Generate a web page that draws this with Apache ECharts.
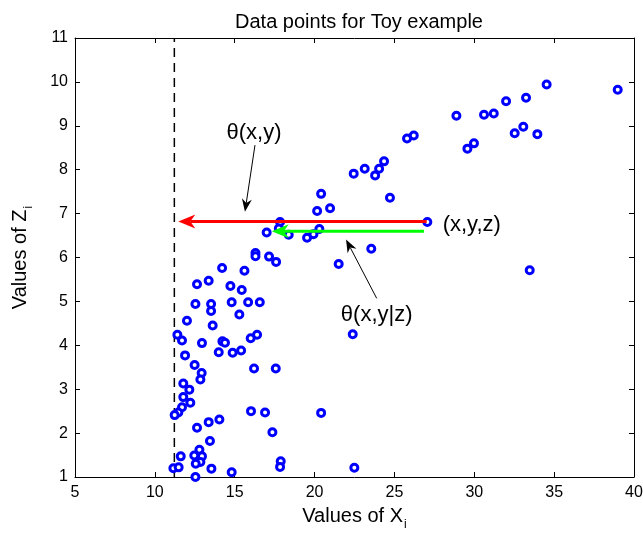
<!DOCTYPE html>
<html>
<head>
<meta charset="utf-8">
<script src="https://cdn.jsdelivr.net/npm/echarts@6/dist/echarts.min.js"></script>
<style>html,body{margin:0;padding:0;background:#fff;}#c{width:643px;height:533px;}</style>
</head>
<body>
<div id="c"></div>
<script>
// ---- data ----
const xValues = [16.3,16.3,17.15,17.59,21.51,14.21,15.61,13.37,12.64,14.73,15.44,12.54,13.52,14.81,15.84,16.57,13.52,15.29,12.01,13.62,
  11.41,11.70,16.40,16.00,12.95,14.23,14.39,14.00,14.87,15.40,11.89,12.49,12.93,12.85,16.21,17.57,11.78,12.16,11.78,12.22,
  11.70,11.47,11.24,16.02,16.90,20.41,13.37,14.04,12.64,17.36,13.45,12.79,11.62,12.47,12.95,12.85,12.56,17.88,17.84,11.16,
  11.49,13.54,14.81,12.54,17.84,17.76,17.00,18.38,19.53,19.93,20.30,20.16,20.41,20.97,22.45,23.14,23.79,24.04,24.35,24.72,
  25.79,26.21,28.88,29.57,29.98,30.61,31.22,31.99,32.53,33.07,33.24,33.95,34.53,38.98,27.06,23.55,33.47,22.39,22.49];
const zValues = [6.10,6.03,6.02,5.90,5.85,5.76,5.70,5.47,5.39,5.35,5.26,4.94,4.94,4.98,4.98,4.98,4.78,4.70,4.56,4.45,
  4.24,4.11,4.24,4.16,4.05,4.09,4.06,3.84,3.83,3.88,3.77,3.55,3.37,3.22,3.47,3.47,3.13,2.99,2.82,2.69,
  2.59,2.47,2.41,2.50,2.47,2.46,2.25,2.31,2.12,2.02,1.82,1.62,1.47,1.49,1.47,1.34,1.30,1.36,1.23,1.20,
  1.22,1.19,1.11,1.00,6.81,6.66,6.57,6.52,6.45,6.53,6.65,7.06,7.45,7.12,7.91,8.02,7.87,8.02,8.19,7.36,
  8.71,8.78,9.23,8.48,8.60,9.25,9.28,9.56,8.83,8.98,9.64,8.81,9.94,9.82,6.81,6.20,5.71,4.25,1.21];
const thresholdX = 11.22;                 // dashed vertical line
const thresholdY = [1, 11];
const redArrow = [27.02, 6.82, 11.47, 6.82];     // theta(x,y)
const greenArrow = [26.85, 6.60, 17.32, 6.60];   // theta(x,y|z)
const noteArrows = [[16.27, 8.56, 15.64, 7.04], [23.89, 5.07, 21.97, 6.41]];
const noteTexts = ['θ(x,y)', 'θ(x,y|z)', '(x,y,z)'];
const notePos = [[16.21, 8.83], [23.89, 4.69], [28.02, 6.74]];
const noteAlign = ['center', 'center', 'left'];
const titleText = 'Data points for Toy example';
const xName = 'Values of X';
const yName = 'Values of Z';

// ---- chart ----
const FONT = '"Liberation Sans", Arial, Helvetica, sans-serif';
const chart = echarts.init(document.getElementById('c'), null, {renderer: 'canvas'});

function arrowRender(style) {
  return function (params, api) {
    const p1 = api.coord([api.value(0), api.value(1)]);
    const p2 = api.coord([api.value(2), api.value(3)]);
    const dx = p2[0] - p1[0], dy = p2[1] - p1[1];
    const L = Math.sqrt(dx * dx + dy * dy);
    const ux = dx / L, uy = dy / L, nx = -uy, ny = ux;
    const hl = style.headLen, hw = style.headW, notch = style.notch;
    const base = [p2[0] - ux * (hl - notch), p2[1] - uy * (hl - notch)];
    const back = [p2[0] - ux * hl, p2[1] - uy * hl];
    return {
      type: 'group',
      children: [
        {type: 'line', shape: {x1: p1[0], y1: p1[1], x2: base[0], y2: base[1]},
         style: {stroke: style.color, lineWidth: style.lw}},
        {type: 'polygon', shape: {points: [p2,
          [back[0] + nx * hw, back[1] + ny * hw], base,
          [back[0] - nx * hw, back[1] - ny * hw]]},
         style: {fill: style.color}}
      ]
    };
  };
}

const option = {
  animation: false,
  backgroundColor: '#fff',
  title: {
    text: titleText, left: 354, top: 7, textAlign: 'center',
    textStyle: {fontFamily: FONT, fontSize: 20, fontWeight: 'normal', color: '#000'}
  },
  grid: {left: 75, right: 9, top: 38, bottom: 56, containLabel: false, outerBoundsMode: 'none'},
  xAxis: [{
    type: 'value', min: 5, max: 40, interval: 5, position: 'bottom',
    name: xName + '{s|i}', nameLocation: 'middle', nameGap: 24,
    nameTextStyle: {fontFamily: FONT, fontSize: 20, color: '#000',
      rich: {s: {fontFamily: FONT, fontSize: 12, color: '#000', padding: [18, 0, 0, 1], verticalAlign: 'bottom'}}},
    axisLine: {show: true, onZero: false, lineStyle: {color: '#000', width: 1}},
    axisTick: {show: true, inside: true, length: 5, lineStyle: {color: '#000'}},
    axisLabel: {fontFamily: FONT, fontSize: 16, color: '#000', margin: 8},
    splitLine: {show: false}
  }, {
    type: 'value', min: 5, max: 40, interval: 5, position: 'top',
    axisLine: {show: true, onZero: false, lineStyle: {color: '#000', width: 1}},
    axisTick: {show: true, inside: true, length: 5, lineStyle: {color: '#000'}},
    axisLabel: {show: false}, splitLine: {show: false}
  }],
  yAxis: [{
    type: 'value', min: 1, max: 11, interval: 1, position: 'left',
    name: yName + '{s|i}', nameLocation: 'middle', nameGap: 40, nameRotate: 90,
    nameTextStyle: {fontFamily: FONT, fontSize: 20, color: '#000',
      rich: {s: {fontFamily: FONT, fontSize: 12, color: '#000', padding: [18, 0, 0, 1], verticalAlign: 'bottom'}}},
    axisLine: {show: true, onZero: false, lineStyle: {color: '#000', width: 1}},
    axisTick: {show: true, inside: true, length: 5, lineStyle: {color: '#000'}},
    axisLabel: {fontFamily: FONT, fontSize: 16, color: '#000', margin: 7},
    splitLine: {show: false}
  }, {
    type: 'value', min: 1, max: 11, interval: 1, position: 'right',
    axisLine: {show: true, onZero: false, lineStyle: {color: '#000', width: 1}},
    axisTick: {show: true, inside: true, length: 5, lineStyle: {color: '#000'}},
    axisLabel: {show: false}, splitLine: {show: false}
  }],
  series: [
    {
      type: 'line', xAxisIndex: 0, yAxisIndex: 0, symbol: 'none',
      data: thresholdY.map(y => [thresholdX, y]),
      lineStyle: {color: '#000', width: 1.5, type: [9, 6]}, z: 1
    },
    {
      type: 'scatter', xAxisIndex: 0, yAxisIndex: 0,
      symbol: 'circle', symbolSize: 7,
      itemStyle: {color: '#ffffff', borderColor: '#0000ff', borderWidth: 3, opacity: 1},
      data: xValues.map((x, i) => [x, zValues[i]]), z: 2
    },
    {
      type: 'custom', xAxisIndex: 0, yAxisIndex: 0, z: 3,
      renderItem: arrowRender({color: '#ff0000', lw: 3, headLen: 17, headW: 7, notch: 5}),
      data: [redArrow], encode: {x: [0, 2], y: [1, 3]}
    },
    {
      type: 'custom', xAxisIndex: 0, yAxisIndex: 0, z: 3,
      renderItem: arrowRender({color: '#00ff00', lw: 3, headLen: 17, headW: 7, notch: 5}),
      data: [greenArrow], encode: {x: [0, 2], y: [1, 3]}
    },
    {
      type: 'custom', xAxisIndex: 0, yAxisIndex: 0, z: 4,
      renderItem: arrowRender({color: '#000', lw: 1, headLen: 13, headW: 5, notch: 4}),
      data: noteArrows, encode: {x: [0, 2], y: [1, 3]}
    },
    {
      type: 'custom', xAxisIndex: 0, yAxisIndex: 0, z: 4,
      renderItem: function (params, api) {
        const i = params.dataIndex;
        const p = api.coord([api.value(0), api.value(1)]);
        return {type: 'text', x: p[0], y: p[1],
          style: {text: noteTexts[i], fill: '#000', font: '22px ' + FONT,
                  align: noteAlign[i], verticalAlign: 'middle'}};
      },
      data: notePos, encode: {x: 0, y: 1}
    }
  ]
};
chart.setOption(option);
</script>
</body>
</html>
